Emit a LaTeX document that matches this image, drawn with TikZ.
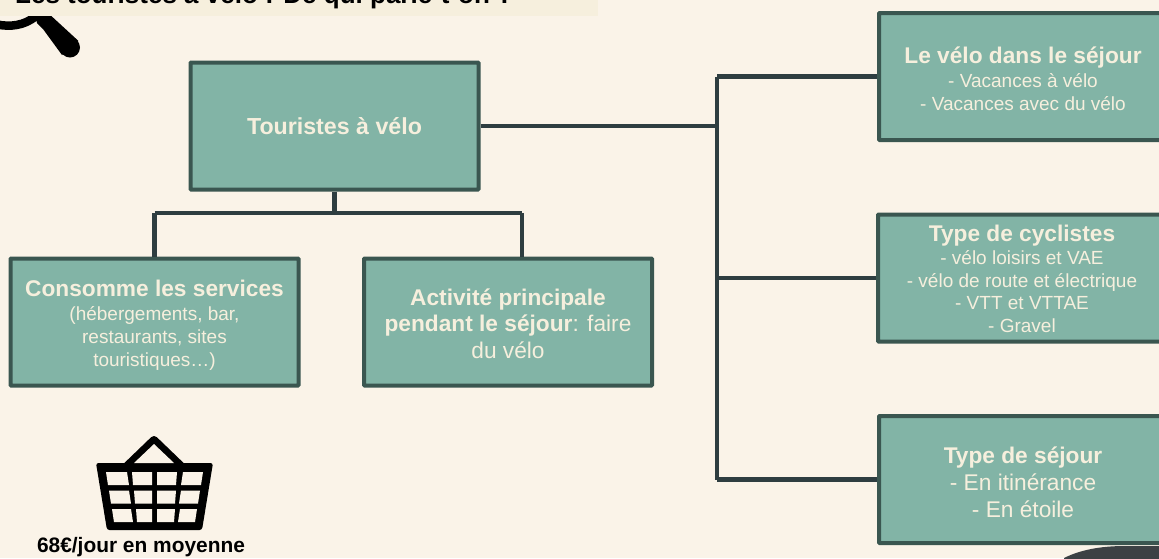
\documentclass[tikz,border=0pt]{standalone}
\usepackage{fontspec}
\setmainfont{Liberation Sans}
\definecolor{bgc}{HTML}{FAF3E8}
\definecolor{banner}{HTML}{F6EFDD}
\definecolor{boxf}{HTML}{82B4A6}
\definecolor{boxd}{HTML}{3A5650}
\definecolor{linec}{HTML}{2E3D40}
\definecolor{txt}{HTML}{F6EFDD}
\definecolor{blob}{HTML}{3C4144}
\tikzset{
 boxn/.style={draw=boxd,line width=4pt,fill=boxf,minimum width=288pt,minimum height=127pt,align=center,text=txt,inner sep=0pt,rounded corners=0.8pt},
 link/.style={draw=linec,line width=4.2pt},
 pitch/.style={font=\fontsize{19}{#1}\selectfont},
}
\newcommand{\tA}[1]{{\fontsize{22.7}{22}\selectfont\bfseries #1}}
\newcommand{\sA}[1]{{\fontsize{19}{22}\selectfont #1}}
\newcommand{\mA}[1]{{\fontsize{22.7}{22}\selectfont #1}}
\newcommand{\pad}[1]{\rule{0pt}{#1pt}}
\begin{document}
\begin{tikzpicture}[x=1pt,y=-1pt]
\useasboundingbox (0,0) rectangle (1159,558);
\clip (0,0) rectangle (1159,558);
\fill[bgc] (0,0) rectangle (1159,558);
% magnifier
\draw[black,line width=8.5pt] (-3,24.5) .. controls (10,27) and (24,26) .. (36,16);
\fill[black] (35,14) -- (47,12) -- (78.5,41) -- (62,55) -- (43,29) -- (37,23) -- cycle;
\fill[black] (70,47.5) circle (10);
\fill[banner] (0,-5) rectangle (598,16);
\node[anchor=base west,inner sep=0pt,font=\fontsize{26}{28}\selectfont\bfseries,text=black] (title) at (15,3.5) {Les touristes à vélo : De qui parle-t-on ?};
% boxes
\node[boxn] (tour) at (334.5,126) {{\fontsize{23.2}{22}\selectfont\bfseries Touristes à vélo}};
\node[boxn,pitch=23] (cons) at (154.5,322) {\pad{23.5}\tA{Consomme les services}\\[1pt]\sA{(hébergements, bar,}\\\sA{restaurants, sites}\\\sA{touristiques…)}};
\node[boxn,pitch=26.5] (acti) at (508,322) {\pad{19.5}\tA{Activité principale}\\\mA{\textbf{pendant le séjour}: faire}\\\mA{du vélo}};
\node[boxn,pitch=22.5] (velo) at (1023,76.5) {\pad{21}\tA{Le vélo dans le séjour}\\[2pt]\sA{- Vacances à vélo}\\\sA{- Vacances avec du vélo}};
\node[boxn,pitch=22.5] (cycl) at (1022,278) {\pad{17.5}\tA{Type de cyclistes}\\[1pt]\sA{- vélo loisirs et VAE}\\\sA{- vélo de route et électrique}\\\sA{- VTT et VTTAE}\\\sA{- Gravel}};
\node[boxn,pitch=27] (sejo) at (1023,479.5) {\pad{22.5}\tA{Type de séjour}\\\mA{- En itinérance}\\\mA{- En étoile}};
% connectors
\coordinate (j) at (717,126);
\coordinate (jt) at (717,76.5);
\coordinate (jm) at (717,278);
\coordinate (jb) at (717,479.5);
\coordinate (d) at (334.5,213);
\coordinate (dl) at (154.5,213);
\coordinate (dr) at (522,213);
\draw[link] (tour.east) -- (j);
\draw[link,line cap=square] (jt) -- (jb);
\draw[link] (jt) -- (velo.west);
\draw[link] (jm) -- (cycl.west);
\draw[link] (jb) -- (sejo.west);
\draw[link] (tour.south) -- (d);
\draw[link,line cap=square] (dl) -- (dr);
\draw[link] (dl) -- (dl |- cons.north);
\draw[link] (dr) -- (dr |- acti.north);
% basket
\draw[black,line width=8pt,line join=round] (127,466) -- (154,440) -- (181,466);
\fill[black,rounded corners=2.5pt] (96,463) -- (213,463) -- (202,530) -- (107,530) -- cycle;
\fill[bgc] (106,472) -- (127,472) -- (129,485) -- (108,485) -- cycle;
\fill[bgc] (132,472) -- (152,472) -- (152,485) -- (133,485) -- cycle;
\fill[bgc] (157,472) -- (177,472) -- (176,485) -- (157,485) -- cycle;
\fill[bgc] (183,472) -- (203,472) -- (201,485) -- (181,485) -- cycle;
\fill[bgc] (109,490.5) -- (129,490.5) -- (131,503.5) -- (111,503.5) -- cycle;
\fill[bgc] (134,490.5) -- (152,490.5) -- (152,503.5) -- (135,503.5) -- cycle;
\fill[bgc] (157,490.5) -- (176,490.5) -- (175,503.5) -- (157,503.5) -- cycle;
\fill[bgc] (181,490.5) -- (200,490.5) -- (198,503.5) -- (179,503.5) -- cycle;
\fill[bgc] (112,509) -- (131,509) -- (133,522) -- (114,522) -- cycle;
\fill[bgc] (136,509) -- (152,509) -- (152,522) -- (137,522) -- cycle;
\fill[bgc] (157,509) -- (175,509) -- (174,522) -- (157,522) -- cycle;
\fill[bgc] (180,509) -- (197,509) -- (195,522) -- (178,522) -- cycle;
\fill[bgc] (134,463) -- (174,463) -- (154,444) -- cycle;
\node[anchor=base,inner sep=0pt,font=\fontsize{20.9}{24}\selectfont\bfseries,text=black] (price) at (141,552) {68€/jour en moyenne};
% corner shape
\fill[blob] (1064,558) .. controls (1080,550) and (1100,546) .. (1125,546) -- (1165,546) -- (1165,565) -- (1064,565) -- cycle;
\end{tikzpicture}
\end{document}
